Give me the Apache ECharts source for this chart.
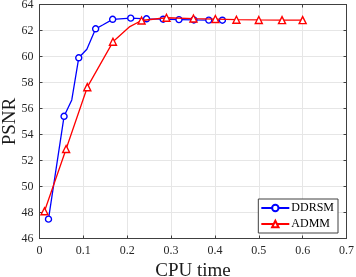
<!DOCTYPE html>
<html>
<head>
<meta charset="utf-8">
<script src="https://cdn.jsdelivr.net/npm/echarts@6/dist/echarts.min.js"></script>
<style>html,body{margin:0;padding:0;background:#fff;}#c{width:356px;height:277px;}</style>
</head>
<body>
<div id="c"></div>
<script>
const seriesNames = ['DDRSM', 'ADMM'];
// [cpu time, PSNR, marker shown (1) or not (0)]
const ddrsmX = [0.0205, 0.056, 0.0736, 0.0895, 0.108, 0.128, 0.145, 0.1668, 0.208, 0.244, 0.282, 0.318, 0.352, 0.386, 0.417];
const ddrsmY = [47.49, 55.4, 56.66, 59.9, 60.56, 62.13, 62.44, 62.86, 62.95, 62.9, 62.87, 62.84, 62.81, 62.8, 62.79];
const ddrsmMark = [1, 1, 0, 1, 0, 1, 0, 1, 1, 1, 1, 1, 1, 1, 1];
const admmX = [0.0114, 0.0607, 0.109, 0.1675, 0.206, 0.2327, 0.2895, 0.351, 0.401, 0.449, 0.5, 0.553, 0.6];
const admmY = [48.1, 52.88, 57.64, 61.13, 62.3, 62.77, 62.98, 62.92, 62.88, 62.83, 62.81, 62.8, 62.8];
const admmMark = [1, 1, 1, 1, 0, 1, 1, 1, 1, 1, 1, 1, 1];
const xTicks = [0, 0.1, 0.2, 0.3, 0.4, 0.5, 0.6, 0.7];
const yTicks = [46, 48, 50, 52, 54, 56, 58, 60, 62, 64];

function build(xs, ys, marks) {
  return xs.map((x, i) => marks[i] ? [x, ys[i]] : { value: [x, ys[i]], symbol: 'none' });
}

const font = 'Liberation Serif';
const axisCol = '#404040';
const chart = echarts.init(document.getElementById('c'), null, { renderer: 'canvas' });
const baseX = {
  type: 'value', min: xTicks[0], max: xTicks[xTicks.length - 1], interval: 0.1,
  axisLine: { show: true, onZero: false, lineStyle: { color: axisCol, width: 1 } },
  axisTick: { show: true, inside: true, length: 3, lineStyle: { color: axisCol } },
};
const baseY = {
  type: 'value', min: yTicks[0], max: yTicks[yTicks.length - 1], interval: 2,
  axisLine: { show: true, onZero: false, lineStyle: { color: axisCol, width: 1 } },
  axisTick: { show: true, inside: true, length: 3, lineStyle: { color: axisCol } },
};
chart.setOption({
  animation: false,
  backgroundColor: '#fff',
  grid: { left: 39.5, right: 9.5, top: 4.5, bottom: 38.5, containLabel: false, outerBoundsMode: 'none' },
  xAxis: [
    Object.assign({}, baseX, {
      position: 'bottom',
      name: 'CPU time', nameLocation: 'middle', nameGap: 23,
      nameTextStyle: { fontFamily: font, fontSize: 19, color: '#1a1a1a' },
      axisLabel: { fontFamily: font, fontSize: 12, color: '#262626', margin: 6,
        formatter: v => String(Math.round(v * 10) / 10) },
      splitLine: { show: true, lineStyle: { color: '#e6e6e6', width: 1 } }
    }),
    Object.assign({}, baseX, { position: 'top', axisLabel: { show: false }, splitLine: { show: false } })
  ],
  yAxis: [
    Object.assign({}, baseY, {
      position: 'left',
      name: 'PSNR', nameLocation: 'middle', nameGap: 20, nameRotate: 90, nameMoveOverlap: false,
      nameTextStyle: { fontFamily: font, fontSize: 19, color: '#1a1a1a' },
      axisLabel: { fontFamily: font, fontSize: 12, color: '#262626', margin: 6 },
      splitLine: { show: true, lineStyle: { color: '#e6e6e6', width: 1 } }
    }),
    Object.assign({}, baseY, { position: 'right', axisLabel: { show: false }, splitLine: { show: false } })
  ],
  legend: {
    orient: 'vertical', right: 18, top: 199,
    data: seriesNames,
    itemWidth: 28, itemHeight: 8, itemGap: 4,
    padding: [3, 4, 3, 2],
    borderColor: axisCol, borderWidth: 1, backgroundColor: '#fff',
    textStyle: { fontFamily: font, fontSize: 12, color: '#000', padding: [0, 0, 0, -3] }
  },
  series: [
    {
      name: seriesNames[0], type: 'line', xAxisIndex: 0, yAxisIndex: 0,
      data: build(ddrsmX, ddrsmY, ddrsmMark),
      symbol: 'circle', symbolSize: 6,
      lineStyle: { color: '#0000ff', width: 1.3 },
      itemStyle: { color: '#ffffff', borderColor: '#0000ff', borderWidth: 1.4 },
      z: 3
    },
    {
      name: seriesNames[1], type: 'line', xAxisIndex: 0, yAxisIndex: 0,
      data: build(admmX, admmY, admmMark),
      symbol: 'triangle', symbolSize: 7,
      lineStyle: { color: '#ff0000', width: 1.3 },
      itemStyle: { color: '#ffffff', borderColor: '#ff0000', borderWidth: 1.4 },
      z: 4
    }
  ]
});
</script>
</body>
</html>
